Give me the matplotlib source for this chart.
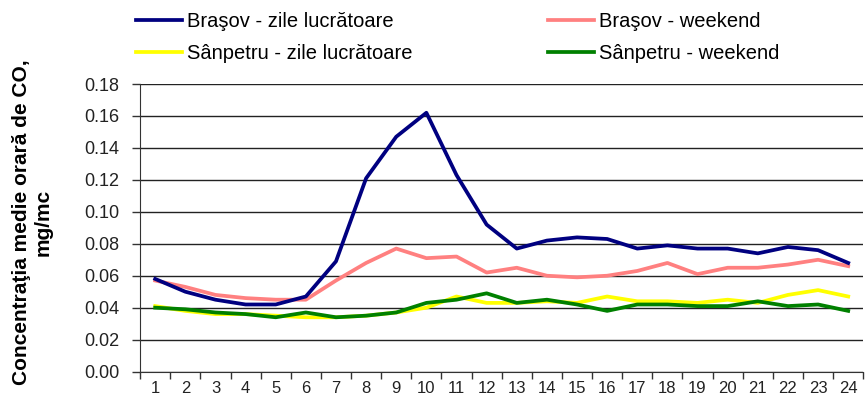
import numpy as np
import matplotlib.pyplot as plt

plt.rcParams['font.family'] = ['Liberation Sans', 'DejaVu Sans']

hours = list(range(1, 25))
brasov_work = [0.058, 0.050, 0.045, 0.042, 0.042, 0.047, 0.069, 0.121, 0.147, 0.162, 0.123, 0.092,
               0.077, 0.082, 0.084, 0.083, 0.077, 0.079, 0.077, 0.077, 0.074, 0.078, 0.076, 0.068]
brasov_weekend = [0.057, 0.053, 0.048, 0.046, 0.045, 0.045, 0.057, 0.068, 0.077, 0.071, 0.072, 0.062,
                  0.065, 0.060, 0.059, 0.060, 0.063, 0.068, 0.061, 0.065, 0.065, 0.067, 0.070, 0.066]
sanpetru_work = [0.041, 0.038, 0.036, 0.036, 0.035, 0.034, 0.034, 0.035, 0.037, 0.040, 0.047, 0.043,
                 0.043, 0.044, 0.043, 0.047, 0.044, 0.044, 0.043, 0.045, 0.043, 0.048, 0.051, 0.047]
sanpetru_weekend = [0.040, 0.039, 0.037, 0.036, 0.034, 0.037, 0.034, 0.035, 0.037, 0.043, 0.045, 0.049,
                    0.043, 0.045, 0.042, 0.038, 0.042, 0.042, 0.041, 0.041, 0.044, 0.041, 0.042, 0.038]

fig = plt.figure(figsize=(8.65, 4), dpi=100)
ax = fig.add_axes([0.162, 0.071, 0.836, 0.719])

lw = 2.7
ax.plot(hours, sanpetru_work, color='#ffff00', lw=lw, label='Sânpetru - zile lucrătoare', zorder=3)
ax.plot(hours, brasov_weekend, color='#ff8080', lw=lw, label='Braşov - weekend', zorder=4)
ax.plot(hours, brasov_work, color='#000080', lw=lw, label='Braşov - zile lucrătoare', zorder=5)
ax.plot(hours, sanpetru_weekend, color='#008000', lw=lw, label='Sânpetru - weekend', zorder=4)

ax.set_xlim(0.5, 24.5)
ax.set_ylim(0, 0.18)
yt = np.arange(0, 0.181, 0.02)
ax.set_yticks(yt)
ax.set_yticklabels([f'{v:.2f}' for v in yt])
ax.set_xticks(hours)
ax.set_xticks(np.arange(0.5, 25, 1), minor=True)
ax.tick_params(axis='x', which='major', length=0, pad=7, labelsize=12, labelcolor='#222222')
ax.tick_params(axis='x', which='minor', length=5, direction='out', width=1, color='#333333')
ax.tick_params(axis='y', length=6, width=1, labelsize=13, pad=9, labelcolor='#222222', color='#333333')
ax.yaxis.grid(True, color='#222222', lw=1)
ax.set_axisbelow(True)
for s in ['top', 'right']:
    ax.spines[s].set_visible(False)
ax.spines['left'].set_color('#333333')
ax.spines['bottom'].set_color('#333333')

fig.text(32 / 865, 1 - 222 / 400, 'Concentraţia medie orară de CO,\nmg/mc', rotation=90,
         ha='center', va='center', multialignment='center', fontsize=15, fontweight='bold',
         linespacing=1.15)

handles, labels = ax.get_legend_handles_labels()
order = [2, 0, 1, 3]
fig.legend([handles[i] for i in order], [labels[i] for i in order], ncol=2, frameon=False,
           loc='upper left', bbox_to_anchor=(136 / 865, 0.97), borderaxespad=0, borderpad=0,
           fontsize=14.5, handlelength=2.3, handletextpad=0.25, columnspacing=6.7,
           labelspacing=0.65)

fig.savefig('out.png', dpi=100)
